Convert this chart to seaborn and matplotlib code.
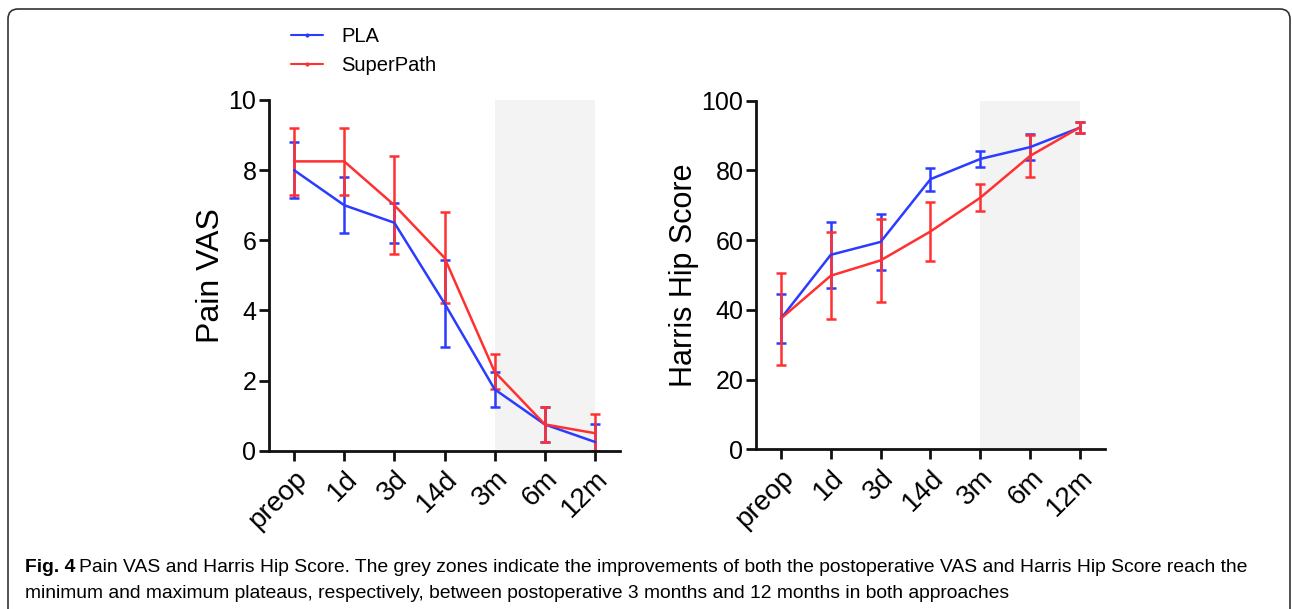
import numpy as np
import pandas as pd
import matplotlib
matplotlib.use("Agg")
import matplotlib.pyplot as plt
import seaborn as sns
from matplotlib.lines import Line2D
from matplotlib.patches import FancyBboxPatch
from matplotlib.transforms import IdentityTransform

# Time points
timepoints = ["preop", "1d", "3d", "14d", "3m", "6m", "12m"]
groups = ["PLA", "SuperPath"]

# Pain VAS (mean, SD)
vas_pla = [8.0, 7.0, 6.5, 4.2, 1.75, 0.75, 0.25]
vas_pla_sd = [0.8, 0.8, 0.57, 1.25, 0.5, 0.5, 0.5]
vas_sp = [8.25, 8.25, 7.0, 5.5, 2.25, 0.75, 0.5]
vas_sp_sd = [0.95, 0.95, 1.4, 1.3, 0.5, 0.5, 0.55]

# Harris Hip Score (mean, SD)
hhs_pla = [37.5, 55.8, 59.5, 77.5, 83.3, 86.7, 92.3]
hhs_pla_sd = [7.0, 9.5, 8.0, 3.3, 2.3, 3.7, 1.5]
hhs_sp = [37.5, 49.8, 54.2, 62.5, 72.2, 84.2, 92.4]
hhs_sp_sd = [13.2, 12.5, 11.8, 8.4, 3.8, 6.0, 1.6]

colors = {"PLA": "#2b3bff", "SuperPath": "#ff3030"}

sns.set_style("ticks")
plt.rcParams["font.family"] = ["Liberation Sans", "DejaVu Sans"]
plt.rcParams["text.color"] = "black"
plt.rcParams["axes.labelcolor"] = "black"

fig = plt.figure(figsize=(12.92, 6.09), dpi=100)
ax1 = fig.add_axes([0.2082, 0.2599, 0.2717, 0.5759])
ax2 = fig.add_axes([0.5851, 0.2622, 0.2702, 0.5724])


def draw_panel(ax, pla, pla_sd, sp, sp_sd, ymax, ystep, ylabel, ylabel_size):
    x = np.arange(len(timepoints))
    df = pd.DataFrame({
        "x": np.concatenate([x, x]),
        "value": pla + sp,
        "group": ["PLA"] * len(x) + ["SuperPath"] * len(x),
    })
    ax.axvspan(4, 6, color="#f3f3f3", zorder=0, lw=0)
    for g, m, s in [("PLA", pla, pla_sd), ("SuperPath", sp, sp_sd)]:
        lo = np.minimum(np.array(s), np.array(m))
        ax.errorbar(x, m, yerr=[lo, s], fmt="none", ecolor=colors[g],
                    elinewidth=1.8, capsize=3.5, capthick=1.8, zorder=2)
    sns.lineplot(data=df, x="x", y="value", hue="group", palette=colors,
                 linewidth=1.8, ax=ax, legend=False, zorder=3)
    ax.set_xlim(-0.5, 6.5)
    ax.set_ylim(0, ymax)
    ax.set_yticks(np.arange(0, ymax + ystep / 2, ystep))
    ax.set_xticks(x)
    ax.set_xticklabels(timepoints, rotation=45, ha="right",
                       rotation_mode="anchor")
    ax.tick_params(axis="both", width=2, length=7, color="#111111",
                   labelcolor="black")
    ax.tick_params(axis="y", labelsize=18, pad=2)
    ax.tick_params(axis="x", labelsize=20, pad=4)
    ax.set_xlabel("")
    ax.set_ylabel(ylabel, fontsize=ylabel_size, labelpad=2)
    for sp_name in ["left", "bottom"]:
        ax.spines[sp_name].set_linewidth(2)
        ax.spines[sp_name].set_color("#111111")
    sns.despine(ax=ax)


draw_panel(ax1, vas_pla, vas_pla_sd, vas_sp, vas_sp_sd, 10, 2, "Pain VAS", 23)
draw_panel(ax2, hhs_pla, hhs_pla_sd, hhs_sp, hhs_sp_sd, 100, 20,
           "Harris Hip Score", 22)

handles = [Line2D([0], [0], color=colors[g], lw=1.5, marker="o",
                  markersize=2) for g in groups]
fig.legend(handles, groups, loc="upper left", bbox_to_anchor=(0.2113, 0.985),
           frameon=False, fontsize=14.5, handlelength=1.6, handletextpad=0.9,
           labelspacing=0.5)

# border box
box = FancyBboxPatch((8, -30), 1282, 630, boxstyle="round,pad=0,rounding_size=10",
                     transform=IdentityTransform(), fill=False,
                     edgecolor="#333333", lw=1.2)
fig.patches.append(box)

# caption
fig.canvas.draw()
renderer = fig.canvas.get_renderer()
t_bold = fig.text(25 / 1292, 1 - 567 / 609, "Fig. 4", fontsize=13.9,
                  fontweight="bold", va="center", ha="left")
bb = t_bold.get_window_extent(renderer)
fig.text((bb.x1 + 4) / 1292, 1 - 567 / 609,
         "Pain VAS and Harris Hip Score. The grey zones indicate the improvements "
         "of both the postoperative VAS and Harris Hip Score reach the",
         fontsize=13.9, va="center", ha="left")
fig.text(25 / 1292, 1 - 594 / 609,
         "minimum and maximum plateaus, respectively, between postoperative "
         "3 months and 12 months in both approaches",
         fontsize=13.9, va="center", ha="left")

fig.savefig("out.png", dpi=100)
